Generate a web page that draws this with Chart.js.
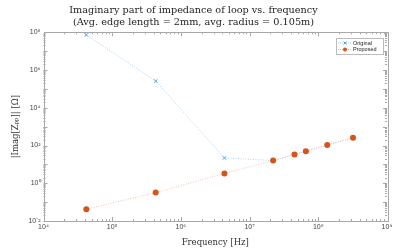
<!DOCTYPE html>
<html>
<head>
<meta charset="utf-8">
<script src="https://cdn.jsdelivr.net/npm/chart.js@4/dist/chart.umd.min.js"></script>
<style>
  html, body { margin:0; padding:0; background:#fff; }
  #wrap { width:400px; height:248px; position:relative; }
</style>
</head>
<body>
<div id="wrap"><canvas id="c"></canvas></div>
<script>
/* ── data ── */
const FREQ      = [4.2e4, 4.3e5, 4.3e6, 2.2e7, 4.5e7, 6.6e7, 1.35e8, 3.2e8];
const ORIGINAL  = [7.2e7, 2.6e5, 22, 16, 33, 50, 105, 260];
const PROPOSED  = [0.042, 0.32, 3.3, 16, 33, 50, 105, 260];
const X_TICKS   = [1e4, 1e5, 1e6, 1e7, 1e8, 1e9];
const Y_TICKS   = [1e-2, 1e0, 1e2, 1e4, 1e6, 1e8];
const TITLE     = ['Imaginary part of impedance of loop vs. frequency', '(Avg. edge length = 2mm, avg. radius = 0.105m)'];

const SERIF = '"DejaVu Serif", "Liberation Serif", serif';
const SANS  = '"Liberation Sans", Arial, sans-serif';
const BLUE  = '#4DA6E8';
const RED   = '#D95319';

const SUP = { '-':'⁻', '0':'⁰','1':'¹','2':'²','3':'³','4':'⁴','5':'⁵','6':'⁶','7':'⁷','8':'⁸','9':'⁹' };
const pow10Label = v => '10' + String(Math.round(Math.log10(v))).split('').map(ch => SUP[ch]).join('');

const pts = ys => FREQ.map((f, i) => ({ x: f, y: ys[i] }));

/* ── box + inside tick marks + legend, matlab style ── */
const boxPlugin = {
  id: 'box',
  afterDraw(chart) {
    const { ctx, chartArea: a, scales } = chart;
    ctx.save();
    ctx.strokeStyle = '#a8a8a8';
    ctx.lineWidth = 1;
    ctx.strokeRect(Math.round(a.left) + 0.5, Math.round(a.top) + 0.5, Math.round(a.right - a.left), Math.round(a.bottom - a.top));

    ctx.beginPath();
    const xs = scales.x, ys = scales.y;
    for (let e = 4; e < 9; e++) {
      for (let k = 1; k <= 9; k++) {
        const px = Math.round(xs.getPixelForValue(k * Math.pow(10, e))) + 0.5;
        const len = k === 1 ? 4 : 2;
        ctx.moveTo(px, a.bottom); ctx.lineTo(px, a.bottom - len);
        ctx.moveTo(px, a.top);    ctx.lineTo(px, a.top + len);
      }
    }
    for (let e = -2; e < 8; e++) {
      for (let k = 1; k <= 9; k++) {
        const py = Math.round(ys.getPixelForValue(k * Math.pow(10, e))) + 0.5;
        const len = k === 1 ? 4 : 2;
        ctx.moveTo(a.left, py);  ctx.lineTo(a.left + len, py);
        ctx.moveTo(a.right, py); ctx.lineTo(a.right - len, py);
      }
    }
    ctx.stroke();

    // legend
    const lx = 336, ly = 38, lw = 47, lh = 16;
    ctx.fillStyle = '#fff';
    ctx.fillRect(lx, ly, lw, lh);
    ctx.strokeStyle = '#bbb';
    ctx.strokeRect(lx + 0.5, ly + 0.5, lw, lh);
    const rows = [
      { label: 'Original', color: BLUE, line: '#9ccdf0', y: ly + 5 },
      { label: 'Proposed', color: RED, line: '#f3b79c', y: ly + 11.5 },
    ];
    ctx.font = '5.5px ' + SANS;
    ctx.textBaseline = 'middle';
    rows.forEach((r, i) => {
      ctx.strokeStyle = r.line;
      ctx.setLineDash([1, 1]);
      ctx.beginPath(); ctx.moveTo(lx + 2, r.y); ctx.lineTo(lx + 16, r.y); ctx.stroke();
      ctx.setLineDash([]);
      if (i === 0) {
        ctx.strokeStyle = r.color;
        ctx.beginPath();
        ctx.moveTo(lx + 7.5, r.y - 1.5); ctx.lineTo(lx + 10.5, r.y + 1.5);
        ctx.moveTo(lx + 10.5, r.y - 1.5); ctx.lineTo(lx + 7.5, r.y + 1.5);
        ctx.stroke();
      } else {
        ctx.fillStyle = r.color;
        ctx.beginPath(); ctx.arc(lx + 9, r.y, 2, 0, Math.PI * 2); ctx.fill();
      }
      ctx.fillStyle = '#222';
      ctx.fillText(r.label, lx + 17, r.y);
    });
    ctx.restore();
  }
};

new Chart(document.getElementById('c'), {
  type: 'scatter',
  data: {
    datasets: [
      { label: 'Proposed', data: pts(PROPOSED), showLine: true, order: 0,
        borderColor: '#f5c2aa', borderWidth: 1, borderDash: [1, 1.5],
        pointStyle: 'circle', pointRadius: 3, pointBorderWidth: 0, pointBackgroundColor: RED },
      { label: 'Original', data: pts(ORIGINAL), showLine: true, order: 1,
        borderColor: '#a9d3f2', borderWidth: 1, borderDash: [1, 1.5],
        pointStyle: 'crossRot', pointRadius: 2.5, pointBorderColor: BLUE, pointBorderWidth: 1, pointBackgroundColor: BLUE },
    ]
  },
  options: {
    responsive: true, maintainAspectRatio: false, animation: false,
    layout: { padding: { right: 13, left: 0, top: 0, bottom: 0 } },
    plugins: {
      legend: { display: false },
      tooltip: { enabled: false },
      title: { display: true, text: TITLE, color: '#222',
               font: { family: SERIF, size: 9.7, weight: 'normal', lineHeight: 1.25 },
               padding: { top: 4, bottom: 4 } },
    },
    scales: {
      x: {
        type: 'logarithmic', min: 1e4, max: 1e9,
        afterBuildTicks: s => { s.ticks = X_TICKS.map(v => ({ value: v })); },
        afterFit: s => { s.height = 27; },
        grid: { display: false, drawTicks: false },
        border: { display: false },
        ticks: { callback: v => pow10Label(v), color: '#444', font: { family: SANS, size: 7 }, padding: 2, maxRotation: 0, autoSkip: false },
        title: { display: true, text: 'Frequency [Hz]', color: '#333', font: { family: SERIF, size: 8.5 }, padding: { top: 0, bottom: 0 } },
      },
      y: {
        type: 'logarithmic', min: 1e-2, max: 1e8,
        afterBuildTicks: s => { s.ticks = Y_TICKS.map(v => ({ value: v })); },
        afterFit: s => { s.width = 43.5; },
        grid: { display: false, drawTicks: false },
        border: { display: false },
        ticks: { callback: v => pow10Label(v), color: '#444', font: { family: SANS, size: 7 }, padding: 3, autoSkip: false },
        title: { display: true, text: '|Imag[Zₚₚ]| [Ω]', color: '#333', font: { family: SERIF, size: 8.5 }, padding: { top: 11, bottom: 0 } },
      }
    }
  },
  plugins: [boxPlugin]
});
</script>
</body>
</html>
